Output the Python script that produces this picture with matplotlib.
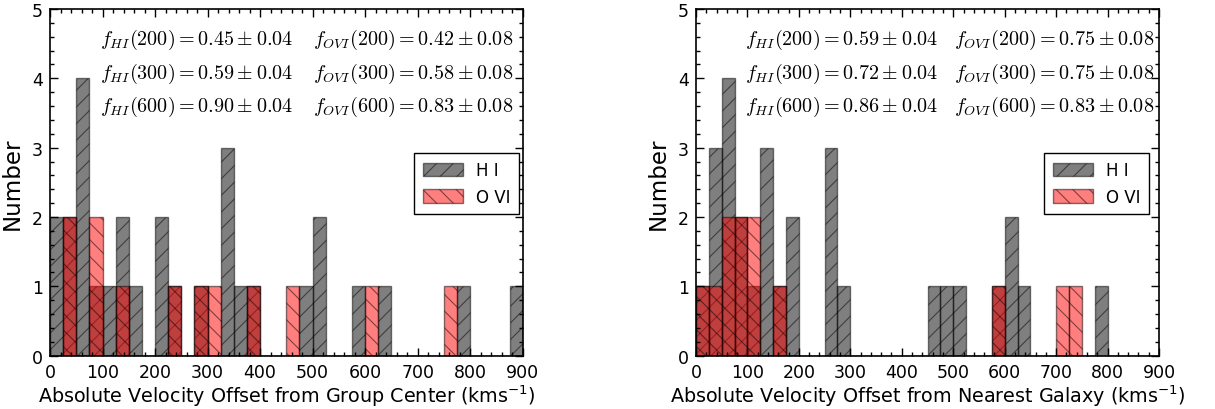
import numpy as np
import matplotlib
matplotlib.use("Agg")
import matplotlib.pyplot as plt
from matplotlib.ticker import MultipleLocator

# Histogram bins (km/s)
bin_width = 25
bin_edges = np.arange(0, 900 + bin_width, bin_width)

# Counts per 25 km/s bin: offset from group center
hi_group = [2, 2, 4, 1, 1, 2, 1, 0, 2, 1,
            0, 1, 0, 3, 1, 1, 0, 0, 0, 1,
            2, 0, 0, 1, 0, 1, 0, 0, 0, 0,
            0, 1, 0, 0, 0, 1]
ovi_group = [0, 2, 0, 2, 0, 1, 0, 0, 0, 1,
             0, 1, 1, 0, 0, 1, 0, 0, 1, 0,
             0, 0, 0, 0, 1, 0, 0, 0, 0, 0,
             1, 0, 0, 0, 0, 0]

# Counts per 25 km/s bin: offset from nearest galaxy
hi_galaxy = [1, 3, 4, 2, 1, 3, 1, 2, 0, 0,
             3, 1, 0, 0, 0, 0, 0, 0, 1, 1,
             1, 0, 0, 1, 2, 1, 0, 0, 0, 0,
             0, 1, 0, 0, 0, 0]
ovi_galaxy = [1, 1, 2, 2, 2, 0, 1, 0, 0, 0,
              0, 0, 0, 0, 0, 0, 0, 0, 0, 0,
              0, 0, 0, 1, 0, 0, 0, 0, 1, 1,
              0, 0, 0, 0, 0, 0]

# Covering fractions within 200, 300, 600 km/s
frac_hi_group = ["0.45", "0.59", "0.90"]
frac_ovi_group = ["0.42", "0.58", "0.83"]
frac_hi_galaxy = ["0.59", "0.72", "0.86"]
frac_ovi_galaxy = ["0.75", "0.75", "0.83"]
frac_windows = ["200", "300", "600"]
err_hi = "0.04"
err_ovi = "0.08"

xlabels = ["Absolute Velocity Offset from Group Center (kms$^{-1}$)",
           "Absolute Velocity Offset from Nearest Galaxy (kms$^{-1}$)"]

plt.rcParams["font.family"] = ["DejaVu Sans"]
plt.rcParams["hatch.linewidth"] = 0.8

fig = plt.figure(figsize=(12.15, 4.10), dpi=100, facecolor="white")
ax_left = fig.add_axes([50 / 1215, 53.3 / 410, 472.7 / 1215, 346.7 / 410])
ax_right = fig.add_axes([696 / 1215, 53.3 / 410, 463 / 1215, 346.7 / 410])

panels = [
    (ax_left, hi_group, ovi_group, frac_hi_group, frac_ovi_group, xlabels[0], 0.992),
    (ax_right, hi_galaxy, ovi_galaxy, frac_hi_galaxy, frac_ovi_galaxy, xlabels[1], 0.978),
]

for ax, hi, ovi, fhi, fovi, xlab, leg_x in panels:
    ax.bar(bin_edges[:-1], hi, width=bin_width, align="edge",
           color="k", edgecolor="k", alpha=0.5, hatch="//", linewidth=1.0,
           label="H I")
    ax.bar(bin_edges[:-1], ovi, width=bin_width, align="edge",
           color="r", edgecolor="k", alpha=0.5, hatch="\\\\", linewidth=1.0,
           label="O VI")

    ax.set_xlim(0, 900)
    ax.set_ylim(0, 5)
    ax.xaxis.set_major_locator(MultipleLocator(100))
    ax.xaxis.set_minor_locator(MultipleLocator(20))
    ax.yaxis.set_major_locator(MultipleLocator(1))
    ax.yaxis.set_minor_locator(MultipleLocator(0.2))
    ax.tick_params(which="both", direction="in", top=True, right=True,
                   labelsize=12.5, width=1.0)
    ax.tick_params(which="major", length=5.5, pad=5)
    ax.tick_params(which="minor", length=2.8)
    for sp in ax.spines.values():
        sp.set_linewidth(1.2)

    ax.set_xlabel(xlab, fontsize=13.8, labelpad=1)
    ax.set_ylabel("Number", fontsize=16.5, labelpad=6)

    ys = [0.913, 0.817, 0.72]
    for i, y in enumerate(ys):
        ax.text(0.106, y,
                r"$f_{HI}(%s) = %s \pm %s$" % (frac_windows[i], fhi[i], err_hi),
                transform=ax.transAxes, fontsize=14.5, va="center", ha="left",
                math_fontfamily="cm")
        ax.text(0.557, y,
                r"$f_{OVI}(%s) = %s \pm %s$" % (frac_windows[i], fovi[i], err_ovi),
                transform=ax.transAxes, fontsize=14.5, va="center", ha="left",
                math_fontfamily="cm")

    leg = ax.legend(loc="upper right", bbox_to_anchor=(leg_x, 0.585),
                    fontsize=12, fancybox=False, framealpha=1.0,
                    edgecolor="k", handlelength=2.4, handleheight=0.9,
                    borderpad=0.5, labelspacing=0.5, handletextpad=0.8,
                    borderaxespad=0.0)
    leg.get_frame().set_linewidth(1.0)

fig.savefig("out.png", dpi=100, facecolor="white")
